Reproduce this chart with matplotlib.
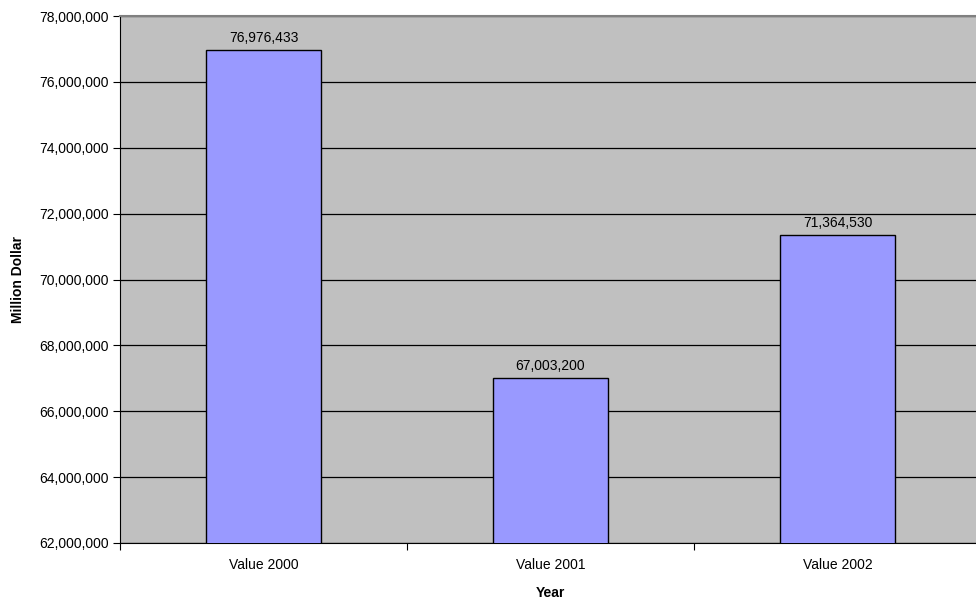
import matplotlib
matplotlib.use("Agg")
import matplotlib.pyplot as plt
from matplotlib.ticker import FuncFormatter, FixedLocator

plt.rcParams['font.family'] = ['Liberation Sans', 'DejaVu Sans']

categories = ["Value 2000", "Value 2001", "Value 2002"]
values = [76976433, 67003200, 71364530]
y_ticks = [62000000, 64000000, 66000000, 68000000, 70000000, 72000000,
           74000000, 76000000, 78000000]

fig = plt.figure(figsize=(9.76, 6.04), dpi=100)
ax = fig.add_axes([120 / 976, 61 / 604, 861 / 976, 527 / 604])
ax.set_facecolor("#C0C0C0")

x = list(range(len(categories)))
ax.bar(x, values, width=0.4, color="#9999FF", edgecolor="black", linewidth=1, zorder=3)
for xi, v in zip(x, values):
    ax.text(xi, v + 150000, f"{v:,}", ha="center", va="bottom", fontsize=10, zorder=4)

ax.set_xlim(-0.5, 2.5)
ax.set_ylim(62000000, 78000000)
ax.yaxis.set_major_locator(FixedLocator(y_ticks))
ax.yaxis.set_major_formatter(FuncFormatter(lambda v, p: f"{int(v):,}"))
ax.grid(axis="y", color="black", linewidth=0.9, zorder=1)

ax.set_xticks([-0.5, 0.5, 1.5, 2.5])
ax.set_xticklabels([])
ax.set_xticks(x, minor=True)
ax.set_xticklabels(categories, minor=True)
ax.tick_params(axis="x", which="minor", length=0, pad=11, labelsize=10)
ax.tick_params(axis="x", which="major", length=5, width=0.8, direction="out")
ax.tick_params(axis="y", length=5, width=0.8, direction="out", labelsize=10, pad=3)

ax.spines["right"].set_visible(False)
ax.spines["top"].set_color("#808080")
ax.spines["top"].set_linewidth(1.5)
ax.spines["left"].set_color("black")
ax.spines["bottom"].set_color("black")

ax.set_xlabel("Year", fontsize=10, fontweight="bold", labelpad=10)
ax.set_ylabel("Million Dollar", fontsize=10, fontweight="bold", labelpad=10)

fig.savefig("out.png", dpi=100)
